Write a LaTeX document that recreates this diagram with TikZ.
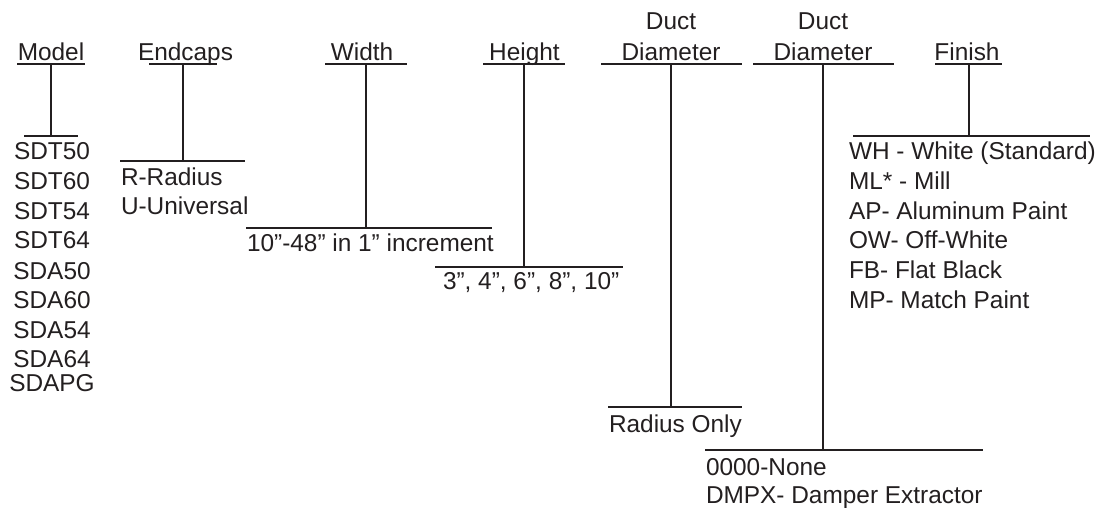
\documentclass[tikz,border=0pt]{standalone}
\usepackage{fontspec}
\setmainfont{Liberation Sans}
\usetikzlibrary{positioning}
\definecolor{inkgray}{HTML}{231F20}

\begin{document}
\begin{tikzpicture}[x=0.5pt, y=-0.5pt, line width=1pt, color=inkgray,
    font=\fontsize{12.2}{14}\selectfont,
    head/.style={inner sep=0pt, anchor=base},
    item/.style={inner sep=0pt, anchor=base west}]
  \useasboundingbox (0,0) rectangle (1105,508);
  % headers with underlines
  \node[head] (model) at (51,61) {Model};
  \node[head] (endcaps) at (185.5,61) {Endcaps};
  \node[head] (width) at (362,61) {Width};
  \node[head] (height) at (524.5,61) {Height};
  \node[head] (ducta-top) at (671,30) {Duct};
  \node[head] (ducta) at (671,61) {Diameter};
  \node[head] (ductb-top) at (823,30) {Duct};
  \node[head] (ductb) at (823,61) {Diameter};
  \node[head] (finish) at (967,61) {Finish};
  \foreach \l/\r in {17/85, 149/217, 325/407, 483/565, 601/742, 753/894, 935/1002}
    \draw (\l,64) -- (\r,64);
  % stems and bars
  \foreach \n/\x/\y/\l/\r in {model/51/136/24/78, endcaps/183/161/120/245,
      width/366/228/246/492, height/524/267/435/623, ducta/671/407/608/742,
      ductb/823/450/705/983, finish/969/136/853/1090} {
    \coordinate (\n-t) at (\x,64);
    \coordinate (\n-b) at (\x,\y);
    \draw (\n-t) -- (\n-b);
    \draw (\l,\y) -- (\r,\y);
  }
  % options
  \foreach \m/\y in {SDT50/160, SDT60/190, SDT54/219.5, SDT64/249, SDA50/279,
      SDA60/308.5, SDA54/338, SDA64/367.5, SDAPG/392}
    \node[head] (opt-\m) at (52,\y) {\m};
  \node[item] (end-r) at (120,186) {R-Radius};
  \node[item] (end-u) at (120,215) {U-Universal};
  \node[item] (width-opt) at (246,252) {10”-48” in 1” increment};
  \node[item] (height-opt) at (442,290) {3”, 4”, 6”, 8”, 10”};
  \node[item] (ducta-opt) at (608,432) {Radius Only};
  \node[item] (ductb-none) at (705,475) {0000-None};
  \node[item] (ductb-dmpx) at (705,503) {DMPX- Damper Extractor};
  \foreach \f [count=\i from 0] in {WH - White (Standard), ML* - Mill,
      AP- Aluminum Paint, OW- Off-White, FB- Flat Black, MP- Match Paint}
    \node[item] (fin-\i) at (848,160+29.6*\i) {\f};
\end{tikzpicture}
\end{document}
